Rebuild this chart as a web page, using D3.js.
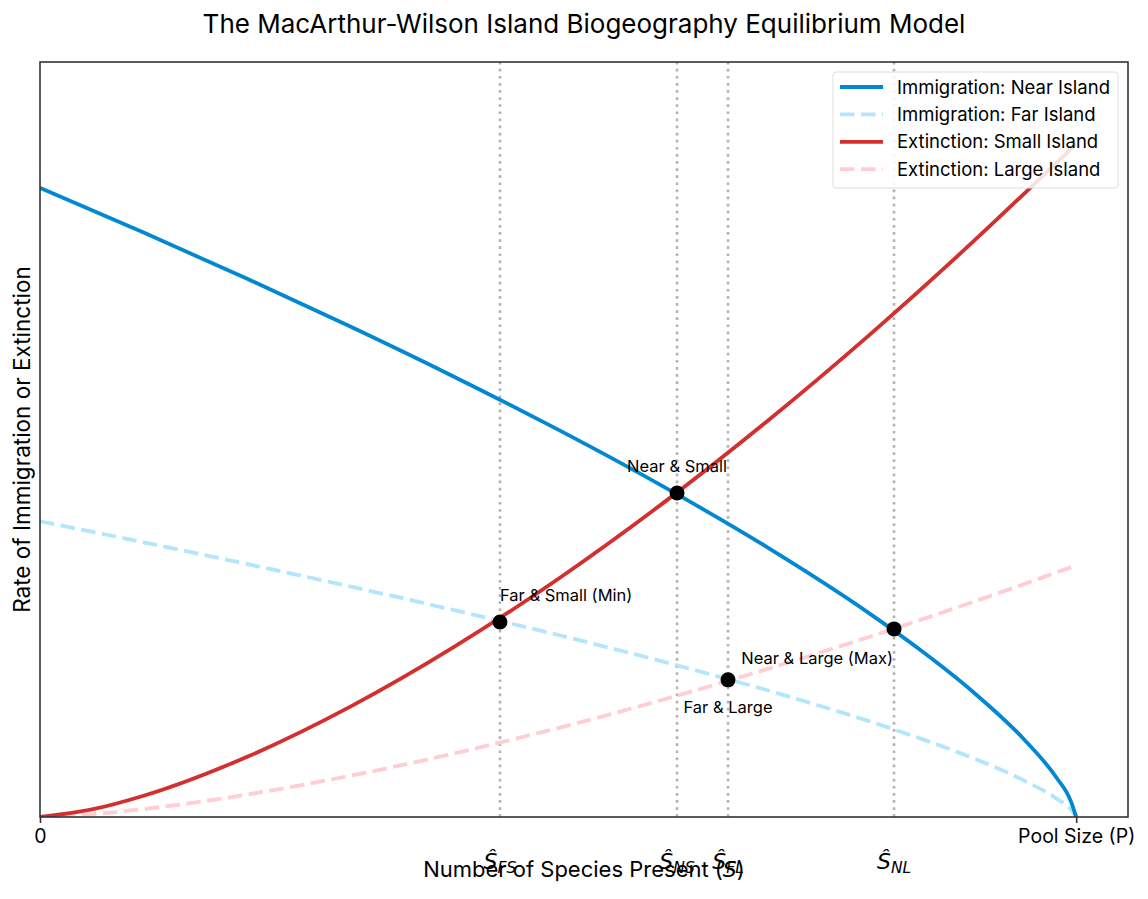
<!DOCTYPE html>
<html><head><meta charset="utf-8">
<script src="https://cdn.jsdelivr.net/npm/d3@7/dist/d3.min.js"></script>
<style>body{margin:0;background:#fff;} text{font-family:Inter,"Open Sans",sans-serif;}</style>
</head><body>
<svg id="c" width="1148" height="899"></svg>
<script>
// Species present (as % of pool size P = 100)
const sGrid = [0,10,20,30,40,50,60,70,80,85,90,95,98,99.5,100];
const immNear = [1,0.9289,0.8554,0.7791,0.6994,0.6156,0.5266,0.4305,0.3241,0.2650,0.1995,0.1228,0.0647,0.0245,0];
const immFar  = [0.47,0.4366,0.4020,0.3662,0.3287,0.2893,0.2475,0.2023,0.1523,0.1246,0.0938,0.0577,0.0304,0.0115,0];
const sGridE = [0,5,10,20,30,40,50,60,70,80,90,100];
const extSmall = [0,0.0120,0.0338,0.0957,0.1758,0.2707,0.3783,0.4973,0.6267,0.7656,0.9136,1.07];
const extLarge = [0,0.0045,0.0126,0.0358,0.0657,0.1012,0.1414,0.1859,0.2343,0.2862,0.3415,0.40];
const eqKeys = ["FS","NS","FL","NL"];
const eqS = [44.39,61.48,66.40,82.42];
const eqRate = [0.310,0.515,0.218,0.299];
const eqNames = ["Far & Small (Min)","Near & Small","Far & Large","Near & Large (Max)"];
const seriesNames = ["Immigration: Near Island","Immigration: Far Island","Extinction: Small Island","Extinction: Large Island"];
const xTickVals = [0,100];
const xTickLabels = ["0","Pool Size (P)"];

const W=1148,H=899,m={l:40,r:20,t:62,b:82};
const svg=d3.select("#c");
const x=d3.scaleLinear().domain([0,105]).range([m.l,W-m.r]);
const y=d3.scaleLinear().domain([0,1.2]).range([H-m.b,m.t]);
const DASH="14.5,6.5";

svg.append("defs").append("clipPath").attr("id","clip").append("rect")
  .attr("x",m.l).attr("y",m.t).attr("width",W-m.l-m.r).attr("height",H-m.t-m.b);

// vertical dotted lines
svg.append("g").selectAll("line").data(eqS).join("line")
  .attr("x1",d=>x(d)).attr("x2",d=>x(d)).attr("y1",y(0)).attr("y2",y(1.2))
  .attr("stroke","#b3b3b3").attr("stroke-width",2.6).attr("stroke-dasharray","2.7,4.4");

const series=[
  {xs:sGrid,ys:immNear,color:"#0288D1",dash:null},
  {xs:sGrid,ys:immFar,color:"#B3E5FC",dash:DASH},
  {xs:sGridE,ys:extSmall,color:"#D32F2F",dash:null},
  {xs:sGridE,ys:extLarge,color:"#FFCDD2",dash:DASH}
];
const line=d3.line().x(d=>x(d[0])).y(d=>y(d[1])).curve(d3.curveMonotoneX);
const g=svg.append("g").attr("clip-path","url(#clip)");
[1,3,2,0].forEach(i=>{
  const s=series[i];
  g.append("path").datum(s.xs.map((v,k)=>[v,s.ys[k]]))
   .attr("d",line).attr("fill","none").attr("stroke",s.color).attr("stroke-width",3.8)
   .attr("stroke-dasharray",s.dash);
});

// equilibrium points
svg.append("g").selectAll("circle").data(eqS).join("circle")
  .attr("cx",d=>x(d)).attr("cy",(d,i)=>y(eqRate[i])).attr("r",7.5).attr("fill","#000");

// annotations
const annDx=[0,0,0,-1], annDy=[-21,-21,33,35], annAnchor=["start","middle","middle","end"];
svg.append("g").selectAll("text").data(eqNames).join("text")
  .attr("x",(d,i)=>x(eqS[i])+annDx[i]).attr("y",(d,i)=>y(eqRate[i])+annDy[i])
  .attr("text-anchor",(d,i)=>annAnchor[i]).attr("font-size",16.5).attr("fill","#000").text(d=>d);

// frame
svg.append("rect").attr("x",m.l).attr("y",m.t).attr("width",W-m.l-m.r).attr("height",H-m.t-m.b)
  .attr("fill","none").attr("stroke","#333").attr("stroke-width",1.6);

// x axis ticks
const ax=svg.append("g").attr("transform",`translate(0,${y(0)})`)
  .call(d3.axisBottom(x).tickValues(xTickVals).tickFormat((d,i)=>xTickLabels[i]).tickSize(6).tickPadding(6));
ax.select(".domain").remove();
ax.selectAll("line").attr("stroke","#333").attr("stroke-width",1.6);
ax.selectAll("text").attr("font-size",19.5).attr("fill","#000").style("font-family","Inter,'Open Sans',sans-serif");

// equilibrium labels
const eqLab=svg.append("g").selectAll("text").data(eqKeys).join("text")
  .attr("x",(d,i)=>x(eqS[i])).attr("y",869).attr("text-anchor","middle")
  .style("font-family","'DejaVu Sans',sans-serif").attr("font-style","italic").attr("fill","#000");
eqLab.append("tspan").attr("font-size",22).text("Ŝ");
eqLab.append("tspan").attr("font-size",15.5).attr("dy",4).text(d=>d);

// axis titles
const xt=svg.append("text").attr("x",(m.l+W-m.r)/2).attr("y",877).attr("text-anchor","middle").attr("font-size",22);
xt.append("tspan").text("Number of Species Present (");
xt.append("tspan").attr("font-style","italic").style("font-family","'DejaVu Sans',sans-serif").text("S");
xt.append("tspan").text(")");
svg.append("text").attr("transform",`translate(30,${(m.t+H-m.b)/2}) rotate(-90)`)
  .attr("text-anchor","middle").attr("font-size",22.5).text("Rate of Immigration or Extinction");

svg.append("text").attr("x",(m.l+W-m.r)/2).attr("y",33).attr("text-anchor","middle")
  .attr("font-size",26).text("The MacArthur-Wilson Island Biogeography Equilibrium Model");

// legend
const lg=svg.append("g").attr("transform","translate(833,72)");
lg.append("rect").attr("width",285).attr("height",116).attr("rx",3).attr("fill","#fff").attr("fill-opacity",0.85)
  .attr("stroke","#ddd").attr("stroke-width",1);
seriesNames.forEach((n,i)=>{
  const yy=15+i*27.4;
  lg.append("line").attr("x1",7).attr("x2",50).attr("y1",yy).attr("y2",yy)
    .attr("stroke",series[i].color).attr("stroke-width",3.8).attr("stroke-dasharray",series[i].dash);
  lg.append("text").attr("x",64).attr("y",yy+6.5).attr("font-size",18.5).text(n);
});
</script>
</body></html>
